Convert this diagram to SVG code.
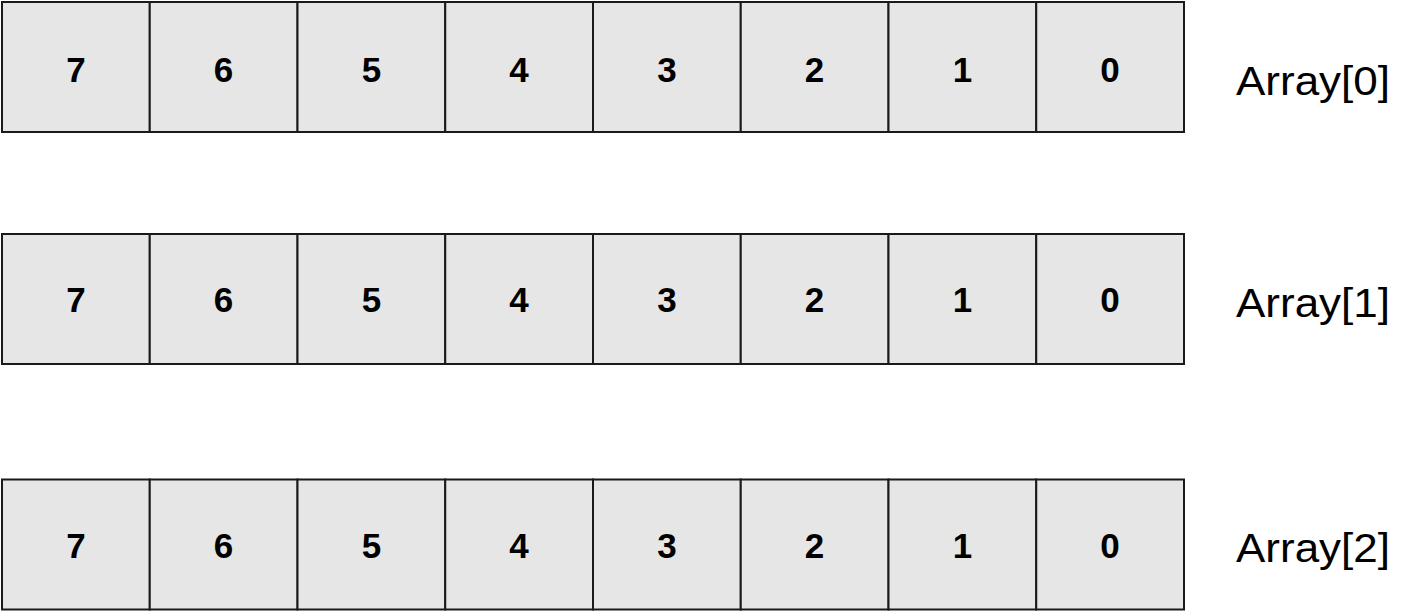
<svg xmlns="http://www.w3.org/2000/svg" width="1419" height="613" viewBox="0 0 1419 613">
<style>
.cell{fill:#e6e6e6;stroke:#1a1a1a;stroke-width:2}
.d{font-family:"Liberation Sans",Arial,sans-serif;font-weight:bold;font-size:35px;fill:#000;text-anchor:middle}
.lbl{font-family:"Liberation Sans",Arial,sans-serif;font-size:41px;fill:#000}
</style>
<rect width="1419" height="613" fill="#fff"/>
<defs>
<g id="rowcells">
<rect class="cell" x="2" y="0" width="147.75" height="130"/>
<rect class="cell" x="149.75" y="0" width="147.75" height="130"/>
<rect class="cell" x="297.5" y="0" width="147.75" height="130"/>
<rect class="cell" x="445.25" y="0" width="147.75" height="130"/>
<rect class="cell" x="593" y="0" width="147.75" height="130"/>
<rect class="cell" x="740.75" y="0" width="147.75" height="130"/>
<rect class="cell" x="888.5" y="0" width="147.75" height="130"/>
<rect class="cell" x="1036.25" y="0" width="147.75" height="130"/>
</g>
</defs>
<g id="array0">
<use href="#rowcells" y="2"/>
<g class="d">
<text x="75.9" y="82">7</text><text x="223.6" y="82">6</text><text x="371.4" y="82">5</text><text x="519.1" y="82">4</text>
<text x="666.9" y="82">3</text><text x="814.6" y="82">2</text><text x="962.4" y="82">1</text><text x="1110.1" y="82">0</text>
</g>
<text class="lbl" x="1236" y="95" textLength="154" lengthAdjust="spacingAndGlyphs">Array[0]</text>
</g>
<g id="array1">
<use href="#rowcells" y="234"/>
<g class="d">
<text x="75.9" y="312">7</text><text x="223.6" y="312">6</text><text x="371.4" y="312">5</text><text x="519.1" y="312">4</text>
<text x="666.9" y="312">3</text><text x="814.6" y="312">2</text><text x="962.4" y="312">1</text><text x="1110.1" y="312">0</text>
</g>
<text class="lbl" x="1236" y="317" textLength="154" lengthAdjust="spacingAndGlyphs">Array[1]</text>
</g>
<g id="array2">
<use href="#rowcells" y="479.5"/>
<g class="d">
<text x="75.9" y="558">7</text><text x="223.6" y="558">6</text><text x="371.4" y="558">5</text><text x="519.1" y="558">4</text>
<text x="666.9" y="558">3</text><text x="814.6" y="558">2</text><text x="962.4" y="558">1</text><text x="1110.1" y="558">0</text>
</g>
<text class="lbl" x="1236" y="562" textLength="154" lengthAdjust="spacingAndGlyphs">Array[2]</text>
</g>
<g id="connectors"/>
</svg>
